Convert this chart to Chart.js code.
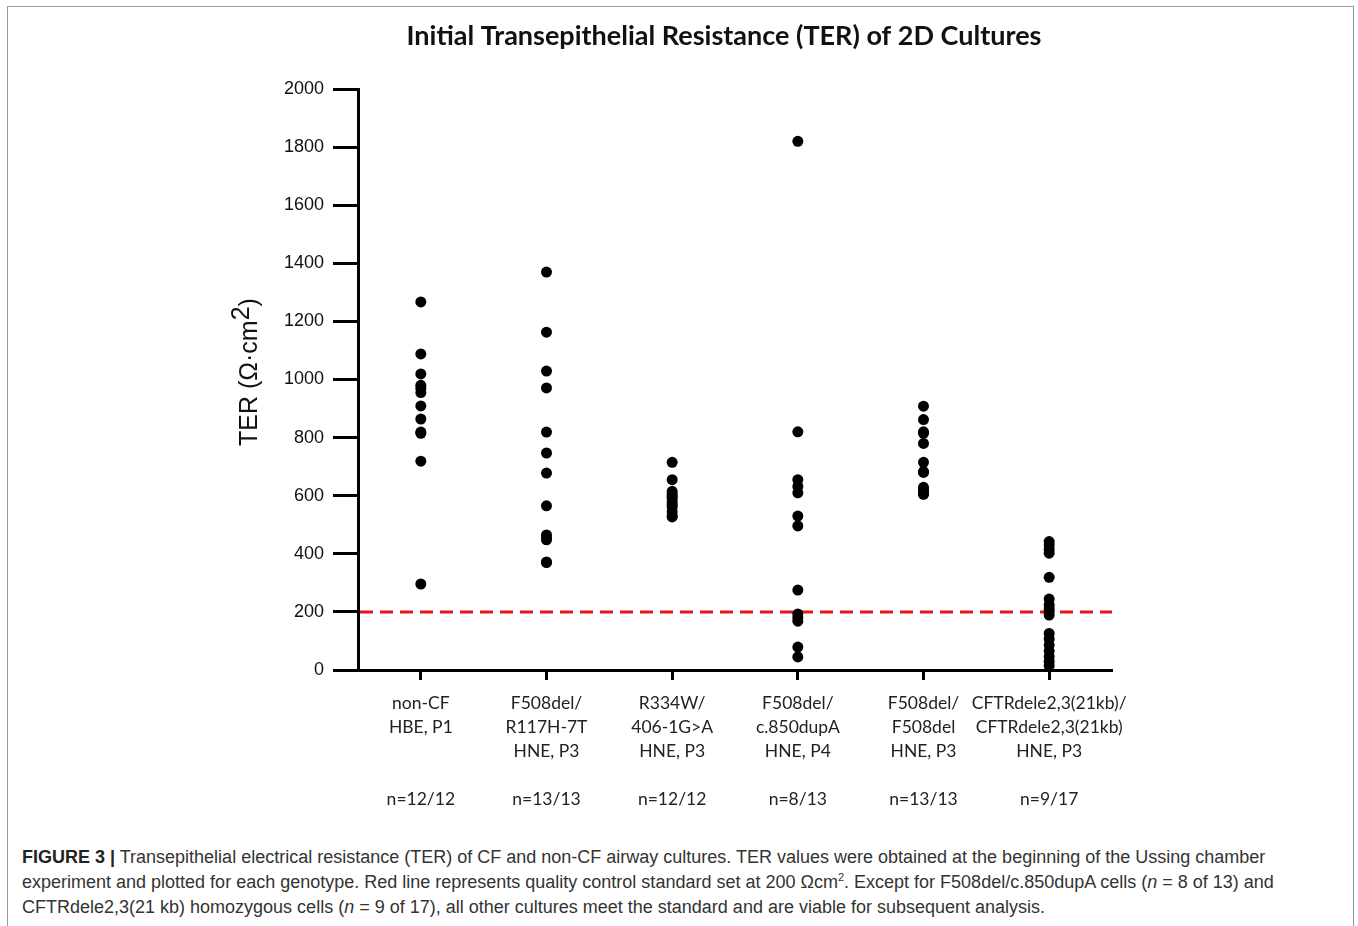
<!DOCTYPE html>
<html>
<head>
<meta charset="utf-8">
<script src="https://cdn.jsdelivr.net/npm/chart.js@4/dist/chart.umd.min.js"></script>
<style>
  html, body { margin: 0; padding: 0; background: #fff; }
  body { width: 1358px; height: 926px; position: relative; overflow: hidden; }
  #frame { position: absolute; left: 7px; top: 6px; width: 1347px; height: 940px; border: 1px solid #9a9a9a; box-sizing: border-box; }
  #wrap { position: absolute; left: 0; top: 0; width: 1358px; height: 830px; }
  #caption { position: absolute; left: 22px; top: 845px; font-family: "Liberation Sans Narrow", "Arial Narrow", "Liberation Sans", sans-serif; font-size: 18px; line-height: 25px; color: #333; white-space: nowrap; }
  #caption b { color: #222; }
  sup { font-size: 11px; line-height: 0; vertical-align: 7px; }
</style>
</head>
<body>
<div id="frame"></div>
<div id="wrap"><canvas id="c" width="1358" height="830"></canvas></div>
<div id="caption">
<b>FIGURE 3 |</b> Transepithelial electrical resistance (TER) of CF and non-CF airway cultures. TER values were obtained at the beginning of the Ussing chamber<br>
experiment and plotted for each genotype. Red line represents quality control standard set at 200 Ωcm<sup>2</sup>. Except for F508del/c.850dupA cells (<i>n</i> = 8 of 13) and<br>
CFTRdele2,3(21 kb) homozygous cells (<i>n</i> = 9 of 17), all other cultures meet the standard and are viable for subsequent analysis.
</div>
<script>
const chartTitle = "Initial Transepithelial Resistance (TER) of 2D Cultures";
const categories = [
  ["non-CF", "HBE, P1", "", "", "n=12/12"],
  ["F508del/", "R117H-7T", "HNE, P3", "", "n=13/13"],
  ["R334W/", "406-1G>A", "HNE, P3", "", "n=12/12"],
  ["F508del/", "c.850dupA", "HNE, P4", "", "n=8/13"],
  ["F508del/", "F508del", "HNE, P3", "", "n=13/13"],
  ["CFTRdele2,3(21kb)/", "CFTRdele2,3(21kb)", "HNE, P3", "", "n=9/17"]
];
const nonCF_HBE = [1267, 1088, 1019, 980, 970, 955, 909, 864, 819, 815, 719, 296];
const F508del_R117H = [1370, 1163, 1029, 971, 819, 747, 678, 565, 465, 455, 448, 372, 370];
const R334W_406 = [715, 655, 615, 605, 597, 590, 579, 570, 562, 545, 530, 527];
const F508del_c850dupA = [1820, 820, 655, 632, 610, 530, 496, 275, 193, 180, 168, 79, 45];
const F508del_F508del = [908, 862, 820, 815, 780, 715, 683, 680, 629, 620, 615, 606, 605];
const CFTRdele_homo = [442, 430, 415, 402, 319, 244, 224, 210, 201, 189, 126, 107, 86, 65, 46, 29, 15];
const yTicks = [0, 200, 400, 600, 800, 1000, 1200, 1400, 1600, 1800, 2000];
const qcThreshold = 200;

const groups = [nonCF_HBE, F508del_R117H, R334W_406, F508del_c850dupA, F508del_F508del, CFTRdele_homo];
const points = [];
groups.forEach((g, i) => g.forEach(v => points.push({ x: i, y: v })));

const overlay = {
  id: 'overlay',
  beforeDatasetsDraw(chart) {
    const { ctx, chartArea, scales } = chart;
    const y = scales.y.getPixelForValue(qcThreshold);
    ctx.save();
    ctx.strokeStyle = '#e8141b';
    ctx.lineWidth = 3;
    ctx.setLineDash([13, 7]);
    ctx.beginPath();
    ctx.moveTo(chartArea.left + 2, y);
    ctx.lineTo(chartArea.right, y);
    ctx.stroke();
    ctx.restore();
  },
  afterDraw(chart) {
    const { ctx } = chart;
    ctx.save();
    ctx.fillStyle = '#111';
    ctx.font = 'bold 27px Lato, "Open Sans", sans-serif';
    ctx.textAlign = 'center';
    ctx.textBaseline = 'middle';
    ctx.fillText(chartTitle, 724, 36);
    ctx.translate(250, 372);
    ctx.rotate(-Math.PI / 2);
    ctx.textBaseline = 'middle';
    ctx.textAlign = 'left';
    const p1 = 'TER (Ω·cm', p2 = '2', p3 = ')';
    ctx.font = '25px "Liberation Sans", Arial, sans-serif';
    const w1 = ctx.measureText(p1).width;
    const w2 = ctx.measureText(p2).width;
    const w3 = ctx.measureText(p3).width;
    const x0 = -(w1 + w2 + w3) / 2;
    ctx.fillText(p1, x0, 0);
    ctx.fillText(p2, x0 + w1, -8);
    ctx.fillText(p3, x0 + w1 + w2, 0);
    ctx.restore();
  }
};

new Chart(document.getElementById('c'), {
  type: 'scatter',
  data: {
    datasets: [{
      data: points,
      showLine: false,
      pointRadius: 5.5,
      pointHoverRadius: 5.5,
      pointBackgroundColor: '#000',
      pointBorderColor: '#000',
      pointBorderWidth: 0
    }]
  },
  options: {
    responsive: false,
    animation: false,
    events: [],
    layout: { padding: { top: 89, right: 246, bottom: 0, left: 0 } },
    plugins: { legend: { display: false }, tooltip: { enabled: false }, title: { display: false } },
    scales: {
      x: {
        type: 'linear',
        min: -0.5, max: categories.length - 0.5,
        afterBuildTicks(scale) { scale.ticks = categories.map((c, i) => ({ value: i })); },
        grid: { display: true, drawOnChartArea: false, drawTicks: true, tickLength: 10, tickWidth: 3, tickColor: '#000' },
        border: { display: true, color: '#000', width: 3 },
        ticks: {
          color: '#222', font: { family: 'Lato, "Open Sans", sans-serif', size: 17.5, lineHeight: 1.38 },
          padding: 11, maxRotation: 0, autoSkip: false,
          callback: (v) => categories[Math.round(v)]
        },
        afterFit(scale) { scale.height = 160; }
      },
      y: {
        type: 'linear',
        min: 0, max: 2000,
        afterBuildTicks(scale) { scale.ticks = yTicks.map(v => ({ value: v })); },
        grid: { display: true, drawOnChartArea: false, drawTicks: true, tickLength: 25, tickWidth: 3, tickColor: '#000' },
        border: { display: true, color: '#000', width: 3 },
        ticks: { color: '#111', font: { family: '"Liberation Sans", Arial, sans-serif', size: 18 }, padding: 9, callback: (v) => String(v) },
        afterFit(scale) { scale.width = 358; }
      }
    }
  },
  plugins: [overlay]
});
</script>
</body>
</html>
